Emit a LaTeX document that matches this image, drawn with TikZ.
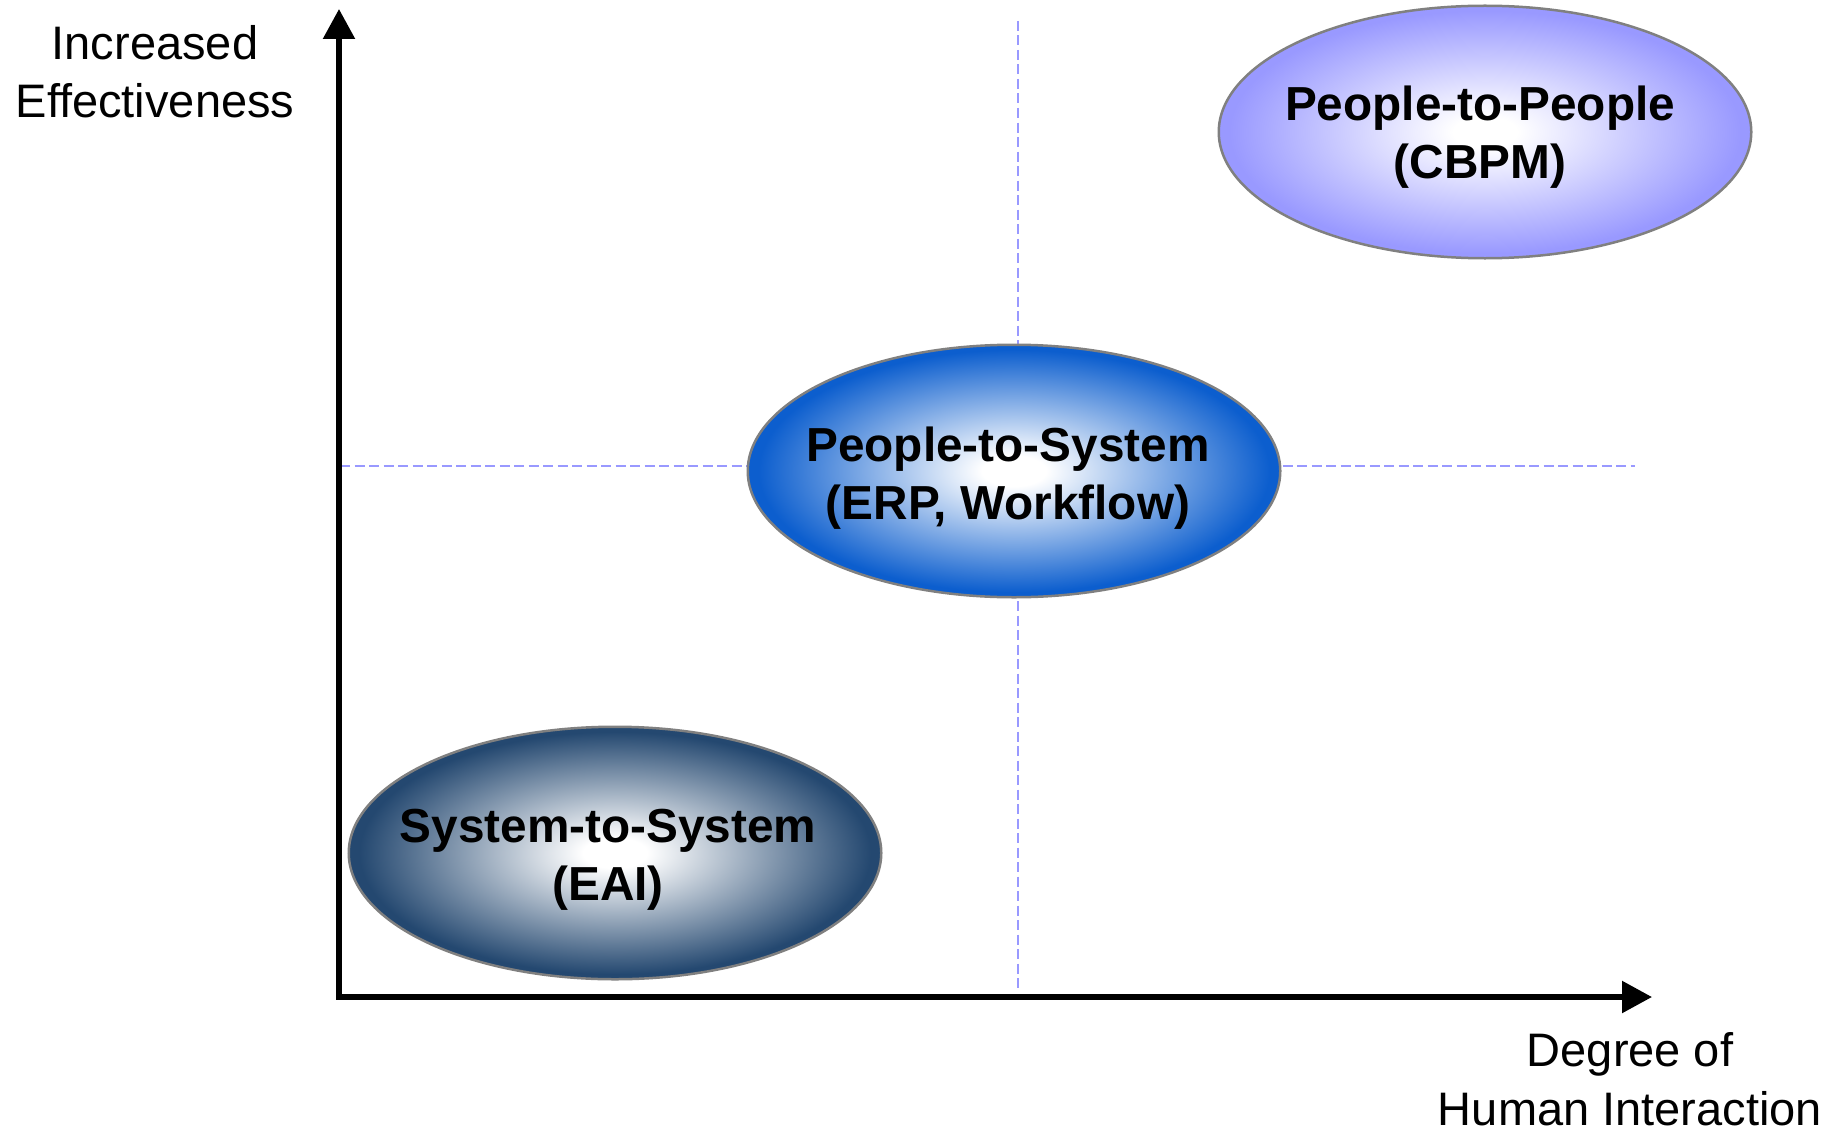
\documentclass[tikz,border=0pt]{standalone}
\usepackage{fontspec}
\setmainfont{Liberation Sans}
\usetikzlibrary{arrows.meta,shapes.geometric}
\definecolor{cbpmC}{RGB}{153,153,255}
\definecolor{erpC}{RGB}{12,94,206}
\definecolor{eaiC}{RGB}{36,72,112}
\definecolor{guideC}{RGB}{153,153,255}
\definecolor{rimC}{RGB}{128,128,128}
\pgfdeclareradialshading{shcbpm}{\pgfpointorigin}{color(0bp)=(white); color(3bp)=(white); color(24bp)=(cbpmC); color(50bp)=(cbpmC)}
\pgfdeclareradialshading{sherp}{\pgfpointorigin}{color(0bp)=(white); color(3bp)=(white); color(24bp)=(erpC); color(50bp)=(erpC)}
\pgfdeclareradialshading{sheai}{\pgfpointorigin}{color(0bp)=(white); color(3bp)=(white); color(24bp)=(eaiC); color(50bp)=(eaiC)}
\begin{document}
\begin{tikzpicture}[x=0.4pt,y=-0.4pt,
  blob/.style={ellipse, draw=rimC, line width=1pt, inner sep=0pt,
    minimum width=213pt, minimum height=101pt},
  boldlbl/.style={align=center, inner sep=0pt,
    font=\fontsize{19.1pt}{23.2pt}\bfseries\selectfont},
  axislbl/.style={align=center, inner sep=0pt,
    font=\fontsize{18.8pt}{23.4pt}\selectfont},
  guide/.style={draw=guideC, line width=0.8pt, dash pattern=on 4pt off 1.8pt},
  axis/.style={line width=2.2pt, line join=miter,
    {Triangle[length=12pt,width=12.4pt]}-{Triangle[length=12pt,width=12.4pt]}}]
\useasboundingbox (0,0) rectangle (1846,1132);
% guide lines
\coordinate (vtop) at (1018,21);
\coordinate (vbot) at (1018,992);
\coordinate (hleft) at (340,466);
\coordinate (hright) at (1635,466);
\draw[guide] (vtop) -- (vbot);
\draw[guide] (hleft) -- (hright);
% axes
\coordinate (ytip) at (339,9);
\coordinate (origin) at (339,997);
\coordinate (xtip) at (1652,997);
\draw[axis] (ytip) -- (origin) -- (xtip);
% ellipses
\node[blob, shading=shcbpm] (cbpm) at (1485,132) {};
\node[blob, shading=sherp] (erp) at (1014,471) {};
\node[blob, shading=sheai] (eai) at (615,853) {};
% labels
\node[boldlbl] (cbpmtxt) at (1480,137.3) {People-to-People\\(CBPM)};
\node[boldlbl] (erptxt) at (1008,477.8) {People-to-System\\(ERP, Workflow)};
\node[boldlbl] (eaitxt) at (608,859.6) {System-to-System\\(EAI)};
\node[axislbl] (ylbl) at (155,71.5) {Increased\\Effectiveness};
\node[axislbl] (xlbl) at (1630,1079) {Degree of\\Human Interaction};
\end{tikzpicture}
\end{document}
